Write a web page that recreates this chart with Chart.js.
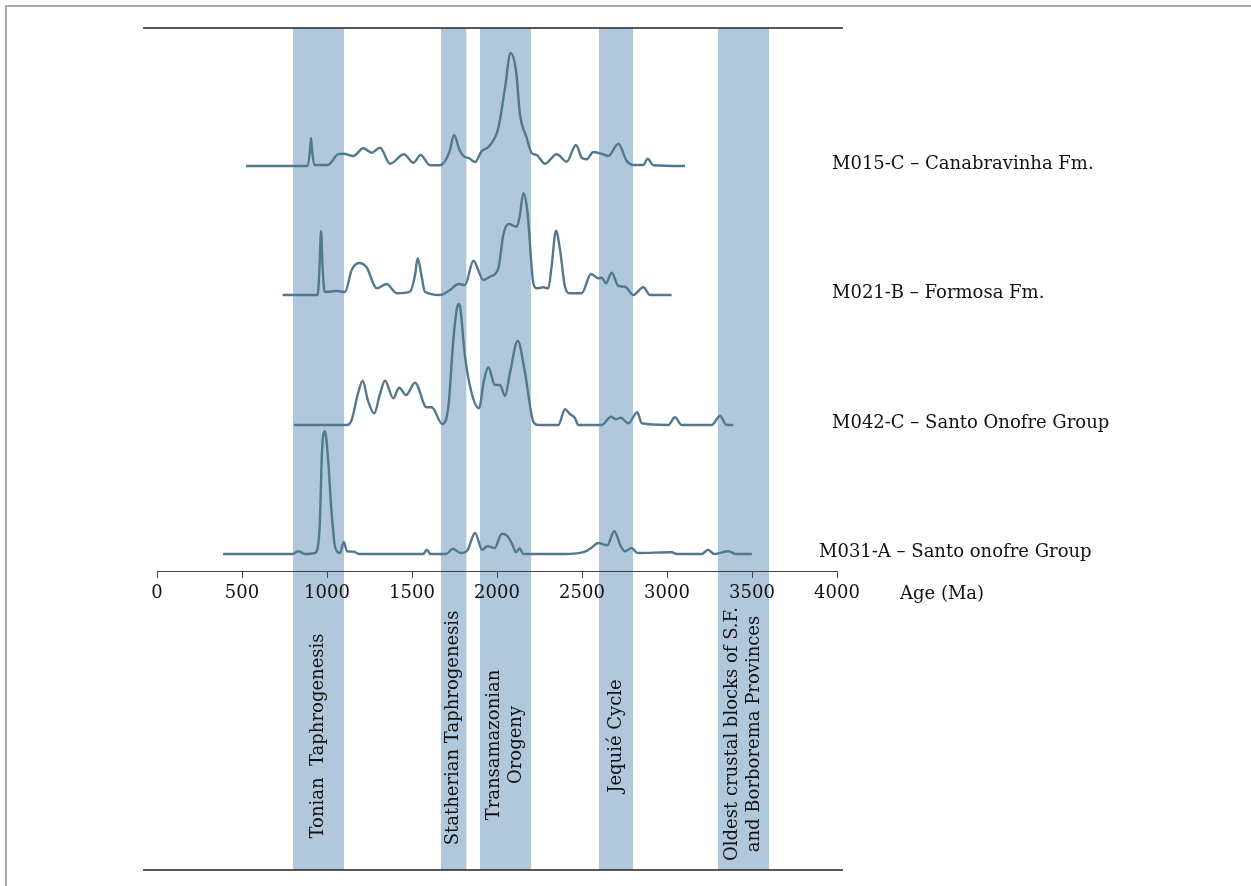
<!DOCTYPE html>
<html>
<head>
<meta charset="utf-8">
<script src="https://cdn.jsdelivr.net/npm/chart.js@4.4.1/dist/chart.umd.min.js"></script>
<style>
    html, body { margin: 0; padding: 0; background: #fff; overflow: hidden; }
    .rule { position: absolute; background: #a9a9a9; }
    #chart { position: absolute; left: 0; top: 0; }
</style>
</head>
<body>
<div class="rule" style="left:5px; top:5px; width:2px; height:900px;"></div>
<div class="rule" style="left:5px; top:5px; width:1300px; height:2px;"></div>
<canvas id="chart" width="1251" height="886"></canvas>
<script>
const FONT = '"DejaVu Serif", serif';
const LINE_COLOR = '#52788d';
const BAND_COLOR = '#b1c8dc';

// samples, top to bottom
const sampleNames = [
    'M015-C – Canabravinha Fm.',
    'M021-B – Formosa Fm.',
    'M042-C – Santo Onofre Group',
    'M031-A – Santo onofre Group'
];
// vertical offset of each stacked curve
const baselines = [405, 276, 146, 17];

// relative probability curves (age in Ma, height)
const ageM015 = [524, 886, 899, 906, 913, 926, 1006, 1035, 1061, 1096, 1155, 1214, 1263, 1312, 1371, 1453, 1508, 1551, 1606, 1665, 1720, 1747, 1780, 1802, 1837, 1871, 1910, 1949, 2008, 2047, 2080, 2112, 2135, 2175, 2204, 2233, 2282, 2351, 2410, 2465, 2498, 2527, 2567, 2626, 2655, 2714, 2763, 2802, 2861, 2886, 2920, 3106];
const probM015 = [0, 0, 14, 28, 14, 1, 1, 6, 11.7, 12.3, 10, 17.7, 13.3, 18.3, 2.3, 11.7, 3.3, 11, 0.7, 0.7, 14, 31, 16, 10, 7.7, 4, 15, 19, 38, 78, 113, 95, 52, 28, 13, 11, 2.3, 11.7, 4.3, 21, 8.3, 6.7, 14, 11.7, 10, 22.3, 5, 1, 1, 7.3, 0.7, 0];

const ageM021 = [739, 945, 956, 965, 974, 986, 1057, 1106, 1145, 1190, 1233, 1292, 1351, 1410, 1488, 1518, 1533, 1557, 1576, 1665, 1724, 1773, 1812, 1861, 1920, 1959, 2008, 2037, 2067, 2116, 2133, 2155, 2178, 2214, 2233, 2273, 2302, 2321, 2347, 2371, 2400, 2429, 2498, 2553, 2596, 2616, 2641, 2675, 2714, 2753, 2802, 2861, 2900, 3027];
const probM021 = [0, 0, 28, 64, 28, 3, 4, 3, 25, 32, 27.7, 6.7, 11, 1.7, 3.3, 20, 36.7, 18.3, 3.3, 0, 5, 11, 10, 34.3, 15, 18.3, 26.7, 60, 71, 68.3, 78.3, 101.7, 85, 11.7, 6.7, 7.7, 6.7, 28.3, 64.3, 45, 8.3, 1.7, 1.7, 21, 16.7, 17.3, 11.7, 22.3, 9, 8.3, 0, 7.7, 0, 0];

const ageM042 = [806, 1116, 1145, 1180, 1210, 1240, 1278, 1310, 1341, 1390, 1424, 1465, 1518, 1586, 1616, 1678, 1714, 1743, 1767, 1775, 1782, 1812, 1851, 1894, 1924, 1949, 1988, 2018, 2047, 2076, 2122, 2165, 2214, 2243, 2361, 2400, 2429, 2459, 2478, 2616, 2671, 2700, 2727, 2773, 2825, 2851, 3008, 3047, 3086, 3263, 3312, 3351, 3390];
const probM042 = [0, 0, 5, 30, 44.3, 25, 11.7, 30, 44.3, 26.7, 37.3, 30, 42.3, 17.7, 17.7, 1, 18.3, 85, 119, 121, 119, 68.3, 31.7, 16.7, 45, 57.7, 40, 40, 29, 51.7, 84.3, 51.7, 3.3, 0, 0, 15.7, 11, 6.7, 0, 0, 8.3, 5.7, 7.3, 1.7, 12.7, 1.7, 0, 7.7, 0, 0, 9, 0, 0];

const ageM031 = [389, 795, 831, 873, 929, 956, 971, 988, 1005, 1026, 1047, 1076, 1099, 1118, 1156, 1188, 1566, 1587, 1608, 1702, 1740, 1786, 1824, 1871, 1912, 1944, 1986, 2028, 2059, 2091, 2112, 2133, 2154, 2396, 2522, 2554, 2595, 2648, 2690, 2728, 2753, 2791, 2826, 3026, 3060, 3205, 3241, 3278, 3362, 3404, 3499];
const probM031 = [0, 0, 2.7, 0, 1, 24, 104, 122.7, 98, 44, 7.7, 1, 12, 2.7, 2.3, 0, 0, 4.3, 0, 0, 5.3, 1, 3.3, 21, 4.3, 7.7, 6, 20.3, 18.3, 9.3, 1.7, 5.7, 0, 0, 2.7, 6, 11, 8.7, 22.7, 7.7, 2.7, 6, 1, 1.7, 0, 0, 4.3, 0, 2.7, 0, 0];

// tectonic events (Ma)
const bandStart = [800, 1670, 1900, 2600, 3300];
const bandEnd = [1100, 1820, 2200, 2800, 3600];
const bandNames = [
    ['Tonian  Taphrogenesis'],
    ['Statherian Taphrogenesis'],
    ['Transamazonian', 'Orogeny'],
    ['Jequié Cycle'],
    ['Oldest crustal blocks of S.F.', 'and Borborema Provinces']
];

const ageTicks = [0, 500, 1000, 1500, 2000, 2500, 3000, 3500, 4000];

const curves = [
    [ageM015, probM015],
    [ageM021, probM021],
    [ageM042, probM042],
    [ageM031, probM031]
];

// bands, frame lines and text that Chart.js has no element for
const overlay = {
    id: 'overlay',
    beforeDraw(chart) {
        const { ctx, chartArea: a } = chart;
        const x = chart.scales.x;
        ctx.save();
        ctx.fillStyle = BAND_COLOR;
        bandStart.forEach((s, i) => {
            const x0 = x.getPixelForValue(s);
            const x1 = x.getPixelForValue(bandEnd[i]);
            ctx.fillRect(x0, a.top, x1 - x0, a.bottom - a.top);
        });
        ctx.restore();
    },
    afterDraw(chart) {
        const { ctx, chartArea: a } = chart;
        const x = chart.scales.x, y = chart.scales.y;
        ctx.save();

        // top and bottom rules
        ctx.strokeStyle = '#222';
        ctx.lineWidth = 1.5;
        ctx.beginPath();
        ctx.moveTo(a.left - 14, a.top); ctx.lineTo(a.right + 6, a.top);
        ctx.moveTo(a.left - 14, a.bottom); ctx.lineTo(a.right + 6, a.bottom);
        ctx.stroke();

        ctx.font = '18px ' + FONT;
        ctx.fillStyle = '#111';
        ctx.textBaseline = 'middle';

        // sample names
        ctx.textAlign = 'left';
        sampleNames.forEach((name, i) => {
            const px = a.right + (i === 3 ? -18 : -5);
            ctx.fillText(name, px, y.getPixelForValue(baselines[i]) - 2);
        });

        // axis title
        const axisY = y.getPixelForValue(0);
        ctx.fillText('Age (Ma)', a.right + 63, axisY + 23);

        // event names, rotated
        const centers = [-165, -157, -174, -165, -163];
        ctx.textAlign = 'center';
        bandNames.forEach((lines, i) => {
            const cx = x.getPixelForValue((bandStart[i] + bandEnd[i]) / 2);
            const cy = y.getPixelForValue(centers[i]);
            ctx.save();
            ctx.translate(cx, cy);
            ctx.rotate(-Math.PI / 2);
            lines.forEach((t, j) => {
                ctx.fillText(t, 0, (j - (lines.length - 1) / 2) * 22);
            });
            ctx.restore();
        });
        ctx.restore();
    }
};

const ctx = document.getElementById('chart').getContext('2d');
new Chart(ctx, {
    type: 'line',
    data: {
        datasets: curves.map(([ages, probs], i) => ({
            label: sampleNames[i],
            data: ages.map((age, k) => ({ x: age, y: baselines[i] + probs[k] })),
            borderColor: LINE_COLOR,
            borderWidth: 2.4,
            pointRadius: 0,
            fill: false,
            cubicInterpolationMode: 'monotone'
        }))
    },
    options: {
        responsive: false,
        animation: false,
        devicePixelRatio: 1,
        layout: { padding: { left: 157, right: 414, top: 28, bottom: 16 } },
        plugins: { legend: { display: false }, tooltip: { enabled: false } },
        scales: {
            x: {
                type: 'linear',
                min: 0,
                max: 4000,
                position: { y: 0 },
                afterBuildTicks: s => { s.ticks = ageTicks.map(v => ({ value: v })); },
                ticks: {
                    font: { family: FONT, size: 18 },
                    color: '#111',
                    padding: 6,
                    maxRotation: 0,
                    callback: v => String(v)
                },
                grid: { drawOnChartArea: false, tickLength: 6, color: '#444', lineWidth: 1 },
                border: { display: true, color: '#444', width: 1 }
            },
            y: {
                type: 'linear',
                min: -299,
                max: 543,
                display: false
            }
        }
    },
    plugins: [overlay]
});
</script>
</body>
</html>
